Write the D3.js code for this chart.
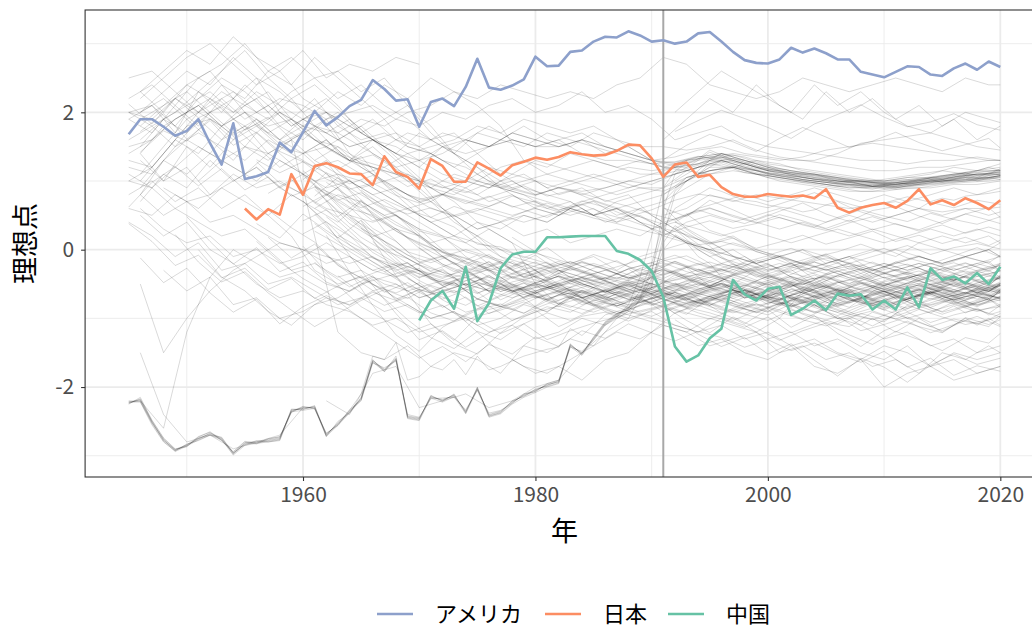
<!DOCTYPE html>
<html><head><meta charset="utf-8">
<script src="https://cdn.jsdelivr.net/npm/d3@7"></script>
<style>
body{margin:0;background:#fff}
svg{display:block}
text{font-family:"Noto Sans CJK JP","Noto Sans",sans-serif}
</style>
</head><body>
<svg id="chart" width="1032" height="629"></svg>
<script>
// ---------------- data ----------------
const countryNames = ["アメリカ", "日本", "中国"];
const countryColors = ["#8DA0CB", "#FC8D62", "#66C2A5"];

const usaStart = 1945;
const usaValues = [1.68,1.90,1.90,1.79,1.66,1.73,1.90,1.55,1.24,1.84,1.03,1.07,1.13,1.56,1.42,1.71,2.02,1.81,1.93,2.09,2.18,2.47,2.34,2.17,2.19,1.79,2.15,2.20,2.09,2.37,2.78,2.36,2.33,2.39,2.48,2.81,2.67,2.68,2.88,2.90,3.03,3.10,3.09,3.18,3.12,3.03,3.05,3.00,3.03,3.15,3.17,3.03,2.88,2.76,2.72,2.71,2.77,2.94,2.87,2.93,2.86,2.77,2.77,2.59,2.55,2.51,2.59,2.67,2.66,2.55,2.53,2.64,2.71,2.62,2.74,2.66];

const japanStart = 1955;
const japanValues = [0.60,0.44,0.59,0.51,1.10,0.80,1.22,1.26,1.20,1.11,1.10,0.94,1.36,1.13,1.06,0.89,1.32,1.22,0.99,0.99,1.27,1.18,1.08,1.23,1.28,1.34,1.31,1.35,1.42,1.39,1.37,1.38,1.44,1.53,1.52,1.33,1.06,1.24,1.27,1.06,1.09,0.91,0.81,0.77,0.77,0.81,0.79,0.77,0.79,0.75,0.88,0.61,0.54,0.61,0.65,0.68,0.61,0.71,0.88,0.66,0.72,0.65,0.75,0.68,0.59,0.72];

const chinaStart = 1970;
const chinaValues = [-1.03,-0.74,-0.60,-0.86,-0.25,-1.04,-0.78,-0.27,-0.07,-0.03,-0.03,0.18,0.18,0.19,0.20,0.20,0.20,-0.02,-0.06,-0.15,-0.31,-0.69,-1.41,-1.63,-1.54,-1.29,-1.15,-0.44,-0.65,-0.74,-0.57,-0.54,-0.95,-0.86,-0.74,-0.88,-0.64,-0.67,-0.65,-0.87,-0.74,-0.87,-0.55,-0.84,-0.27,-0.44,-0.39,-0.49,-0.34,-0.50,-0.25];

const markerYear = 1991;
const xTickValues = [1960, 1980, 2000, 2020];
const yTickValues = [-2, 0, 2];
const xMinorValues = [1950, 1970, 1990, 2010];
const yMinorValues = [-3, -1, 1, 3];

// Eastern-bloc countries, yearly values from 1945
const blocStart = 1945;
const blocSeries = [
[-2.22,-2.19,-2.51,-2.77,-2.92,-2.85,-2.75,-2.68,-2.75,-2.97,-2.82,-2.80,-2.78,-2.75,-2.34,-2.31,-2.29,-2.70,-2.53,-2.36,-2.17,-1.61,-1.75,-1.58,-2.43,-2.46,-2.14,-2.19,-2.12,-2.36,-2.02,-2.41,-2.36,-2.22,-2.12,-2.05,-1.97,-1.92,-1.39,-1.51,-1.29,-1.07,-0.95,-0.85,-0.70,-0.35,0.60,1.10,1.20,1.30,1.42,1.35,1.28,1.22,1.18,1.15,1.12,1.10,1.05,1.03,1.00,0.98,1.00,0.95,0.93,0.96,0.94,0.97,1.00,1.05,1.02,1.06,1.10,1.05,1.12,1.15],
[-2.25,-2.15,-2.48,-2.74,-2.90,-2.87,-2.72,-2.66,-2.78,-2.95,-2.80,-2.83,-2.76,-2.72,-2.36,-2.28,-2.31,-2.68,-2.55,-2.33,-2.20,-1.65,-1.72,-1.62,-2.40,-2.44,-2.17,-2.16,-2.15,-2.33,-2.05,-2.38,-2.34,-2.24,-2.10,-2.07,-1.95,-1.90,-1.42,-1.48,-1.32,-1.10,-0.98,-0.80,-0.40,0.20,0.90,1.15,1.25,1.32,1.45,1.38,1.30,1.25,1.20,1.16,1.14,1.08,1.06,1.02,1.01,0.97,0.98,0.96,0.92,0.95,0.95,0.98,1.02,1.04,1.05,1.08,1.12,1.08,1.10,1.18],
[-2.20,-2.22,-2.55,-2.80,-2.93,-2.83,-2.78,-2.70,-2.73,-2.96,-2.84,-2.78,-2.80,-2.77,-2.32,-2.33,-2.27,-2.72,-2.50,-2.38,-2.15,-1.60,-1.78,-1.55,-2.45,-2.48,-2.12,-2.21,-2.10,-2.38,-2.00,-2.43,-2.37,-2.20,-2.14,-2.03,-1.99,-1.94,-1.37,-1.53,-1.27,-1.05,-0.93,-0.88,-0.75,-0.55,0.20,0.80,1.00,1.15,1.30,1.28,1.22,1.18,1.15,1.10,1.08,1.06,1.02,1.00,0.98,0.95,0.96,0.93,0.92,0.94,0.92,0.95,0.98,1.02,1.00,1.03,1.07,1.03,1.08,1.10],
[-2.24,-2.17,-2.50,-2.78,-2.91,-2.86,-2.74,-2.69,-2.76,-2.98,-2.81,-2.79,-2.77,-2.74,-2.35,-2.30,-2.30,-2.71,-2.52,-2.35,-2.18,-1.62,-1.74,-1.60,-2.42,-2.45,-2.15,-2.18,-2.13,-2.35,-2.03,-2.40,-2.35,-2.21,-2.13,-2.06,-1.96,-1.93,-1.40,-1.50,-1.30,-1.08,-0.96,-0.86,-0.72,-0.45,0.10,0.35,0.25,0.15,0.05,-0.10,-0.20,-0.30,-0.40,-0.35,-0.30,-0.40,-0.50,-0.45,-0.55,-0.60,-0.58,-0.70,-0.62,-0.60,-0.72,-0.80,-0.75,-0.85,-0.90,-0.82,-0.92,-0.85,-0.95,-0.90],
[-2.21,-2.20,-2.52,-2.76,-2.93,-2.84,-2.76,-2.67,-2.74,-2.96,-2.83,-2.81,-2.79,-2.76,-2.33,-2.32,-2.28,-2.69,-2.54,-2.37,-2.16,-1.63,-1.76,-1.59,-2.44,-2.47,-2.13,-2.20,-2.11,-2.37,-2.01,-2.42,-2.38,-2.23,-2.11,-2.04,-1.98,-1.91,-1.38,-1.52,-1.28,-1.06,-0.94,-0.84,-0.68,-0.30,0.30,0.60,0.70,0.80,0.90,0.85,0.78,0.72,0.70,0.65,0.62,0.60,0.55,0.58,0.65,0.70,0.62,0.55,0.50,0.45,0.50,0.55,0.60,0.70,0.75,0.72,0.78,0.80,0.82,0.85],
[-2.23,-2.18,-2.49,-2.75,-2.91,-2.84,-2.73,-2.65,-2.77,-2.94,-2.79,-2.82,-2.75,-2.73,-2.37,-2.29,-2.32,-2.67,-2.56,-2.34,-2.10,-1.55,-1.60,-1.35,-1.90,-1.85,-1.70,-1.75,-1.60,-1.82,-1.55,-1.75,-1.70,-1.62,-1.55,-1.50,-1.45,-1.42,-1.15,-1.25,-1.10,-0.95,-0.90,-0.85,-0.60,-0.20,0.40,0.85,1.00,1.10,1.25,1.22,1.18,1.12,1.10,1.08,1.05,1.02,0.98,0.97,0.95,0.92,0.94,0.90,0.88,0.92,0.90,0.93,0.96,1.00,0.98,1.02,1.05,1.00,1.04,1.08],
[-2.23,-2.21,-2.53,-2.79,-2.94,-2.86,-2.77,-2.70,-2.77,-2.99,-2.85,-2.82,-2.80,-2.78,-2.36,-2.34,-2.31,-2.72,-2.56,-2.38,-2.19,-1.64,-1.77,-1.61,-2.46,-2.49,-2.16,-2.22,-2.14,-2.39,-2.04,-2.44,-2.39,-2.25,-2.15,-2.08,-2.00,-1.95,-1.41,-1.54,-1.31,-1.09,-0.97,-0.88,-0.74,-0.50,0.00,0.20,0.10,-0.10,-0.20,-0.40,-0.50,-0.60,-0.70,-0.80,-0.70,-0.80,-0.90,-0.80,-0.90,-1.00,-1.00,-1.10,-1.00,-1.10,-1.20,-1.10,-1.00,-1.10,-1.20,-1.10,-1.00,-1.10,-1.00,-1.10]
];

// Other countries, one value every second (even) year; the last value is 2020
const grayEvenSeries = [
[2.0,2.2,1.9,2.1,2.3,2.0,2.2,2.1,1.9,2.0,2.1,1.9,1.8,2.0,1.9,2.1,2.2,2.0,2.1,2.3,2.0,2.1,1.9,1.6,1.7,1.8,1.6,1.5,1.45,1.4,1.35,1.3,1.3,1.25,1.3,1.3,1.35,1.3],
[1.4,1.8,2.0,2.2,1.9,1.7,2.0,1.8,1.7,1.5,1.6,1.4,1.3,1.5,1.4,1.5,1.6,1.5,1.6,1.7,1.5,1.4,1.3,1.25,1.35,1.4,1.3,1.2,1.15,1.1,1.05,1.0,1.0,1.05,1.05,1.1,1.15,1.15],
[1.9,2.1,2.4,2.2,2.0,2.3,2.1,1.9,1.7,1.9,1.6,1.5,1.3,1.4,1.6,1.5,1.7,1.6,1.5,1.6,1.4,1.5,1.3,1.35,1.45,1.5,1.4,1.35,1.3,1.3,1.4,1.55,1.6,1.65,1.7,1.6,1.5,1.45],
[1.0,1.4,1.8,1.9,1.6,1.8,1.5,1.4,1.6,1.3,1.2,1.1,1.0,0.9,1.0,1.2,1.1,1.3,1.2,1.1,1.0,0.9,1.0,1.1,1.2,1.25,1.15,1.05,1.0,0.95,0.9,0.85,0.85,0.9,0.9,0.95,0.95,1.0],
[0.8,1.3,1.1,1.4,1.2,1.0,1.3,1.1,0.9,1.0,0.8,0.9,0.7,0.8,1.0,0.9,1.1,1.0,0.9,0.8,0.9,1.0,1.1,1.2,1.3,1.35,1.25,1.15,1.1,1.05,1.0,0.98,0.95,1.0,1.02,1.06,1.1,1.12],
[1.8,2.1,2.3,2.0,1.7,1.9,1.6,1.4,1.5,1.3,1.2,1.1,1.0,0.8,0.7,0.6,0.5,0.6,0.5,0.7,0.8,0.9,1.0,1.1,1.2,1.3,1.2,1.12,1.08,1.03,1.0,0.96,0.94,0.97,1.0,1.04,1.08,1.1],
[2.3,2.0,2.4,2.6,2.2,2.5,2.0,1.8,2.0,1.7,1.9,1.6,1.5,1.7,1.6,1.5,1.6,1.5,1.5,1.6,1.5,1.4,1.3,1.22,1.32,1.37,1.27,1.17,1.13,1.09,1.04,0.99,0.98,1.02,1.04,1.09,1.12,1.16],
[1.8,1.6,1.9,1.7,1.5,1.6,1.4,1.7,1.5,1.6,1.8,1.6,1.5,1.6,1.4,1.3,1.3,1.25,1.28,1.36,1.3,1.2,1.12,1.07,1.03,1.0,0.97,0.97,1.0,1.04,1.08,1.1,1.13],
[1.9,2.0,1.8,1.6,1.7,1.5,1.3,1.2,1.0,0.9,0.8,0.9,1.0,1.1,1.2,1.15,1.2,1.25,1.35,1.3,1.2,1.12,1.06,1.02,1.0,0.96,0.99,1.02,1.06,1.1,1.12],
[1.4,1.6,1.3,1.5,1.2,1.3,1.1,1.0,0.9,1.0,0.8,0.9,0.85,0.9,1.0,0.95,1.1,1.2,1.3,1.2,1.1,1.05,1.0,0.96,0.93,0.92,0.95,0.98,1.02,1.05,1.07],
[1.6,1.5,1.7,1.6,1.5,1.6,1.5,1.4,1.3,1.27,1.35,1.4,1.3,1.22,1.15,1.1,1.05,1.02,1.0,1.02,1.06,1.1,1.13,1.16],
[2.2,2.5,2.8,3.0,2.7,2.4,2.6,2.2,2.0,1.8,1.6,1.3,1.0,0.6,0.3,0.1,-0.1,-0.2,-0.3,-0.4,-0.3,-0.2,-0.1,-0.2,-0.3,-0.2,-0.3,-0.2,-0.4,-0.5,-0.6,-0.5,-0.4,-0.5,-0.3,-0.4,-0.3,-0.2],
[1.5,1.9,2.1,2.3,2.0,2.2,1.8,1.6,1.9,1.4,1.1,0.8,0.5,0.3,0.1,-0.1,-0.3,-0.4,-0.5,-0.4,-0.5,-0.6,-0.4,-0.5,-0.6,-0.5,-0.7,-0.6,-0.8,-0.9,-1.0,-1.1,-1.3,-1.2,-1.4,-1.3,-1.5,-1.4],
[2.0,2.3,2.6,2.4,2.8,2.5,2.3,2.0,2.2,1.9,1.6,1.4,1.2,1.0,0.9,0.7,0.8,0.6,0.5,0.6,0.4,0.5,0.3,0.4,0.3,0.2,0.3,0.2,0.1,0.2,0.3,0.2,0.1,0.2,0.3,0.2,0.3,0.2],
[0.9,1.3,1.6,1.4,1.8,1.5,1.2,1.4,1.1,0.9,0.7,0.5,0.3,0.0,-0.2,-0.4,-0.5,-0.6,-0.5,-0.7,-0.6,-0.5,-0.4,-0.3,-0.2,-0.3,-0.2,-0.3,-0.2,-0.1,-0.2,-0.3,-0.2,-0.3,-0.2,-0.3,-0.2,-0.1],
[1.4,1.0,1.5,1.2,1.6,1.9,1.6,1.8,1.5,1.7,1.4,1.2,0.9,0.6,0.3,0.0,-0.2,-0.4,-0.3,-0.5,-0.6,-0.5,-0.7,-0.6,-0.5,-0.6,-0.7,-0.6,-0.5,-0.7,-0.6,-0.8,-0.7,-0.9,-0.8,-0.7,-0.8,-0.7],
[1.1,1.5,1.9,1.6,1.3,1.7,1.4,1.1,1.3,1.0,0.8,0.6,0.4,0.2,-0.1,-0.3,-0.4,-0.3,-0.5,-0.4,-0.3,-0.4,-0.5,-0.6,-0.4,-0.5,-0.6,-0.7,-0.5,-0.6,-0.8,-0.7,-0.6,-0.7,-0.6,-0.5,-0.6,-0.5],
[1.6,1.9,1.7,2.0,2.2,1.8,2.0,1.7,1.5,1.3,1.6,1.4,1.2,1.5,1.3,1.1,0.9,1.0,0.8,0.9,0.7,0.8,0.5,0.3,0.0,-0.2,-0.1,-0.3,-0.2,-0.3,-0.4,-0.3,-0.2,-0.3,-0.2,-0.3,-0.2,-0.3],
[0.7,1.1,0.9,1.3,1.0,1.2,0.9,1.1,0.8,0.6,0.5,0.3,0.2,-0.1,-0.3,-0.5,-0.6,-0.7,-0.6,-0.8,-0.7,-0.6,-0.8,-0.7,-0.6,-0.7,-0.8,-0.9,-0.7,-0.8,-1.0,-0.9,-0.8,-1.0,-0.9,-0.8,-0.9,-0.8],
[0.6,0.3,0.1,0.2,-0.1,0.0,-0.2,-0.1,0.1,-0.1,-0.3,-0.2,-0.4,-0.3,-0.5,-0.4,-0.6,-0.5,-0.6,-0.7,-0.6,-0.72,-0.81,-0.68,-0.63,-0.74,-0.83,-0.69,-0.78,-0.92,-0.81,-0.73,-0.84,-0.71,-0.62,-0.73,-0.64,-0.71],
[0.5,0.2,0.4,0.0,-0.2,-0.5,-0.7,-0.6,-0.8,-0.9,-1.1,-1.0,-1.2,-1.1,-1.0,-1.2,-1.1,-1.3,-1.2,-1.0,-1.1,-0.9,-1.0,-1.1,-1.2,-1.0,-1.1,-1.3,-1.2,-1.4,-1.3,-1.5,-1.6,-1.4,-1.7,-1.5,-1.6,-1.5],
[1.3,1.0,1.2,0.8,1.1,0.9,1.0,0.8,0.6,0.5,0.4,0.5,0.3,0.2,0.1,0.3,0.1,-0.5,-0.8,-0.7,-0.9,-1.0,-0.9,-1.1,-1.2,-1.1,-1.3,-1.2,-1.4,-1.3,-1.5,-1.6,-1.4,-1.5,-1.7,-1.6,-1.8,-1.7],
[0.8,0.5,0.7,0.4,0.5,0.3,0.1,0.0,-0.1,-0.2,-0.1,-0.3,-0.2,-0.1,0.0,-0.1,-0.2,-0.3,-0.2,-0.3,-0.41,-0.28,-0.19,-0.33,-0.42,-0.29,-0.38,-0.51,-0.42,-0.53,-0.38,-0.27,-0.41,-0.33,-0.44,-0.52,-0.39,-0.31],
[0.9,0.7,0.8,1.0,1.2,0.9,0.7,0.4,0.2,0.0,-0.2,-0.3,-0.4,-0.3,-0.5,-0.6,-0.5,-0.6,-0.7,-0.6,-0.72,-0.61,-0.74,-0.83,-0.68,-0.59,-0.71,-0.82,-0.73,-0.61,-0.69,-0.81,-0.72,-0.63,-0.74,-0.62,-0.7],
[-0.3,-0.6,-0.4,-0.8,-0.7,-1.0,-0.9,-0.7,-0.8,-0.6,-0.5,-0.7,-0.6,-0.5,-0.6,-0.7,-0.6,-0.5,-0.6,-0.7,-0.8,-0.71,-0.62,-0.73,-0.84,-0.93,-0.78,-0.69,-0.82,-0.91,-0.79,-0.68,-0.61,-0.72,-0.63,-0.51,-0.6],
[-0.5,-1.5,-1.0,-0.6,-0.3,-0.1,0.1,0.0,-0.2,-0.1,-0.3,-0.4,-0.3,-0.5,-0.4,-0.6,-0.5,-0.7,-0.6,-0.5,-0.6,-0.73,-0.58,-0.69,-0.81,-0.67,-0.59,-0.72,-0.83,-0.71,-0.62,-0.68,-0.79,-0.72,-0.61,-0.73,-0.64,-0.7],
[1.15,0.85,0.62,0.31,0.12,-0.18,-0.33,-0.41,-0.28,-0.52,-0.38,-0.55,-0.63,-0.47,-0.61,-0.49,-0.72,-0.58,-0.51,-0.66,-0.74,-0.57,-0.69,-0.83,-0.71,-0.6,-0.75,-0.62,-0.7,-0.58,-0.52],
[0.42,0.58,0.27,-0.04,-0.23,-0.45,-0.62,-0.49,-0.74,-0.58,-0.83,-0.66,-0.61,-0.77,-0.85,-0.69,-0.93,-0.78,-0.71,-0.86,-0.95,-0.79,-0.68,-0.84,-0.97,-1.05,-0.81,-0.92,-0.76,-0.88,-0.83],
[0.05,-0.32,-0.54,-0.38,-0.74,-0.92,-0.81,-1.04,-0.87,-0.79,-0.68,-0.83,-0.59,-0.73,-0.52,-0.64,-0.71,-0.57,-0.49,-0.63,-0.76,-0.84,-0.69,-0.58,-0.74,-0.86,-0.72,-0.61,-0.69,-0.81,-0.73],
[1.02,1.28,0.87,0.58,0.36,0.21,-0.04,-0.13,-0.22,-0.35,-0.44,-0.53,-0.41,-0.62,-0.48,-0.39,-0.51,-0.64,-0.73,-0.59,-0.47,-0.61,-0.52,-0.58,-0.71,-0.63,-0.49,-0.57,-0.68,-0.61,-0.72],
[0.63,0.81,0.47,0.19,0.31,0.02,-0.21,-0.34,-0.17,-0.41,-0.53,-0.38,-0.49,-0.62,-0.51,-0.58,-0.37,-0.48,-0.63,-0.52,-0.6,-0.72,-0.57,-0.47,-0.59,-0.68,-0.55,-0.49,-0.61,-0.53,-0.64],
[1.08,0.79,1.02,0.68,0.49,0.27,0.18,-0.03,-0.12,-0.24,-0.08,-0.31,-0.19,-0.28,-0.42,-0.33,-0.17,-0.29,-0.41,-0.31,-0.22,-0.34,-0.43,-0.27,-0.38,-0.52,-0.41,-0.33,-0.45,-0.31,-0.42],
[0.72,0.38,0.17,-0.09,-0.31,-0.42,-0.27,-0.53,-0.39,-0.48,-0.62,-0.47,-0.41,-0.53,-0.64,-0.49,-0.58,-0.46,-0.71,-0.59,-0.52,-0.63,-0.74,-0.61,-0.49,-0.58,-0.51,-0.63,-0.72,-0.6],
[0.98,0.77,0.52,0.27,0.09,-0.04,-0.21,-0.07,-0.29,-0.18,-0.33,-0.17,-0.28,-0.42,-0.31,-0.19,-0.32,-0.43,-0.28,-0.39,-0.27,-0.18,-0.31,-0.42,-0.29,-0.21,-0.33,-0.44,-0.32,-0.23],
[0.48,0.27,-0.03,-0.22,-0.33,-0.52,-0.38,-0.54,-0.63,-0.49,-0.71,-0.58,-0.47,-0.62,-0.51,-0.42,-0.53,-0.64,-0.48,-0.39,-0.52,-0.63,-0.47,-0.58,-0.49,-0.41,-0.53,-0.62,-0.47],
[0.38,0.17,0.52,0.28,0.07,-0.12,-0.23,-0.41,-0.28,-0.53,-0.37,-0.61,-0.48,-0.39,-0.52,-0.63,-0.47,-0.58,-0.72,-0.61,-0.49,-0.62,-0.71,-0.58,-0.69,-0.57,-0.48,-0.61,-0.73,-0.58,-0.47,-0.63,-0.52],
[1.28,0.97,0.81,1.12,0.68,0.42,0.51,0.18,-0.03,-0.12,-0.31,-0.17,-0.38,-0.27,-0.18,-0.29,-0.41,-0.28,-0.17,-0.32,-0.21,-0.29,-0.42,-0.31,-0.18,-0.27,-0.22,-0.34,-0.43,-0.28,-0.19,-0.31,-0.23],
[0.23,0.41,0.07,-0.18,-0.39,-0.27,-0.52,-0.38,-0.61,-0.47,-0.39,-0.53,-0.62,-0.71,-0.58,-0.49,-0.61,-0.53,-0.42,-0.51,-0.63,-0.48,-0.59,-0.72,-0.61,-0.52,-0.63,-0.51,-0.42,-0.53,-0.61],
[-0.08,-0.32,-0.51,-0.63,-0.48,-0.72,-0.59,-0.47,-0.61,-0.52,-0.38,-0.49,-0.62,-0.51,-0.42,-0.53,-0.64,-0.49,-0.58,-0.71,-0.62,-0.48,-0.59,-0.73,-0.61,-0.52,-0.63,-0.48,-0.57,-0.49],
[0.12,-0.18,-0.31,-0.52,-0.41,-0.53,-0.62,-0.48,-0.39,-0.52,-0.41,-0.49,-0.61,-0.52,-0.38,-0.29,-0.42,-0.51,-0.39,-0.48,-0.37,-0.28,-0.41,-0.52,-0.38,-0.27,-0.39,-0.31],
[0.03,-0.21,-0.38,-0.29,-0.51,-0.63,-0.48,-0.41,-0.52,-0.61,-0.72,-0.58,-0.49,-0.61,-0.52,-0.39,-0.51,-0.63,-0.48,-0.41,-0.53,-0.42,-0.51,-0.62,-0.49,-0.38],
[0.48,0.21,-0.12,-0.28,-0.52,-0.73,-0.91,-0.82,-1.03,-0.88,-1.12,-0.97,-0.91,-1.04,-0.88,-0.79,-0.92,-1.01,-1.13,-0.98,-1.21,-1.08,-0.97,-1.18,-1.09,-0.98,-1.12,-1.01,-1.08,-0.97],
[0.18,-0.03,-0.21,-0.32,-0.43,-0.28,-0.52,-0.41,-0.29,-0.42,-0.53,-0.38,-0.49,-0.61,-0.48,-0.39,-0.51,-0.42,-0.31,-0.43,-0.52,-0.39],
[0.32,0.08,-0.12,-0.23,-0.41,-0.29,-0.52,-0.38,-0.49,-0.61,-0.48,-0.39,-0.52,-0.63,-0.49],
[-0.28,-0.41,-0.62,-0.49,-0.71,-0.58,-0.82,-0.69,-0.61,-0.73,-0.84,-0.71,-0.59,-0.72],
[0.83,0.51,0.22,0.03,-0.18,-0.09,-0.31,-0.18,-0.42,-0.29,-0.17,-0.31,-0.43,-0.28,-0.19,-0.08,-0.21,-0.32,-0.18,-0.09,-0.22,-0.31,-0.19,-0.08,0.02,-0.12,-0.21,-0.09,0.03,-0.11],
[0.21,-0.32,-0.81,-1.24,-1.48,-1.13,-0.94,-0.78,-0.87,-0.71,-0.62,-0.74,-0.58,-0.69,-0.77,-0.62,-0.71,-0.83,-0.69,-0.58,-0.71,-0.82,-0.67,-0.74,-0.88,-0.72,-0.61,-0.73,-0.81,-0.68],
[0.71,0.38,-0.08,-0.52,-0.93,-1.31,-1.18,-1.42,-1.21,-1.03,-0.91,-0.82,-0.93,-0.78,-0.89,-0.97,-0.83,-0.72,-0.86,-0.94,-1.03,-0.88,-0.97,-1.08,-0.93,-1.02,-0.91,-1.06,-0.95,-0.87,-0.98],
[0.12,-0.18,-0.42,-0.61,-0.88,-1.12,-1.35,-1.58,-1.41,-1.63,-1.38,-1.52,-1.27,-1.41,-1.18,-1.29,-1.08,-1.21,-1.33,-1.19,-1.28,-1.42,-1.31,-1.47,-1.36,-1.52,-1.64,-1.48,-1.71,-1.58,-1.83,-1.69,-1.77],
[1.72,1.98,1.61,1.88,1.52,1.71,1.43,1.28,1.12,0.96,1.08,0.88,0.73,0.81,0.67,0.78,0.62,0.71,0.58,0.66,0.52,0.43,0.31,0.18,0.07,0.12,0.03,-0.08,0.02,-0.11,-0.03,0.08,-0.04,0.06,-0.07,0.03,0.09,0.01],
[1.31,1.12,1.28,1.03,0.88,0.97,0.79,0.68,0.81,0.72,0.63,0.78,0.69,0.57,0.71,0.62,0.48,0.58,0.72,0.81,0.76,0.68,0.61,0.72,0.83,0.71,0.62,0.68,0.77,0.69,0.61,0.72,0.66],
[1.42,1.73,1.58,1.91,1.67,1.83,1.54,1.72,1.48,1.29,1.38,1.17,1.02,0.91,0.83,0.97,0.88,0.79,0.91,0.82,0.72,0.63,0.52,0.43,0.58,0.47,0.38,0.51,0.42,0.33,0.47,0.58,0.49,0.41,0.53,0.44,0.37,0.48],
[-0.12,-0.48,-0.27,-0.63,-0.91,-0.72,-1.08,-0.83,-0.67,-0.81,-0.62,-0.74,-0.58,-0.69,-0.81,-0.63,-0.52,-0.68,-0.79,-0.61,-0.72,-0.83,-0.71,-0.62,-0.79,-0.68,-0.82,-0.91,-0.73,-0.84,-0.96,-0.82,-0.73,-0.86,-0.71,-0.79,-0.68,-0.74],
[0.48,0.12,-0.21,0.03,-0.32,-0.18,-0.47,-0.61,-0.43,-0.72,-0.58,-0.84,-0.69,-0.93,-0.78,-0.62,-0.74,-0.59,-0.68,-0.81,-0.72,-0.63,-0.77,-0.68,-0.59,-0.71,-0.82,-0.67,-0.58,-0.69,-0.78,-0.64,-0.53,-0.67,-0.58,-0.62],
[1.72,1.88,2.03,1.91,1.78,1.62,1.83,1.97,2.11,1.93,1.79,1.86,1.98,1.82,1.74],
[-1.02,-1.23,-1.41,-1.28,-1.52,-1.37,-1.61,-1.84,-1.58,-1.71,-1.93,-1.68,-1.52,-1.67,-1.58],
[-0.48,-0.71,-0.92,-1.08,-0.87,-1.13,-0.96,-1.22,-1.41,-1.18,-1.04,-1.21,-1.09,-0.97,-1.12],
[-1.6,-1.8,-1.7,-1.9,-1.6,-1.5,-1.2,-0.92,-0.81,-0.93,-0.78,-0.69,-0.82,-0.91,-0.78,-0.71,-0.84,-0.69,-0.81,-0.72,-0.83,-0.68],
[-2.2,-2.4,-1.8,-1.7,-2.3,-2.2,-2.1,-2.3,-2.2,-2.0,-1.9,-1.5,-1.2,-1.0,-0.42,-0.31,-0.52,-0.38,-0.49,-0.61,-0.48,-0.37,-0.52,-0.63,-0.47,-0.39,-0.51,-0.62,-0.48,-0.41],
[1.0,1.2,1.4,1.3,1.2,1.1,1.1,1.0,1.0,0.95,1.0,1.05,1.1,1.15,1.2],
[0.9,1.1,1.3,1.25,1.15,1.1,1.05,1.0,0.95,0.9,0.95,1.0,1.05,1.1,1.1],
[1.2,1.25,1.4,1.35,1.25,1.2,1.15,1.1,1.05,1.0,1.05,1.1,1.2,1.15,1.25],
[0.41,0.18,0.02,-0.21,-0.32,-0.19,-0.43,-0.31,-0.42,-0.53,-0.39,-0.51,-0.42,-0.54,-0.41],
[0.22,0.03,-0.12,-0.31,-0.42,-0.53,-0.41,-0.62,-0.49,-0.61,-0.72,-0.58,-0.49,-0.63,-0.52],
[2.0,2.3,2.6,2.4,2.2,2.0,2.4,2.1,2.3,2.0,1.8,1.7,1.9,1.6,1.8],
[-1.2,-1.4,-1.3,-1.5,-1.6,-1.4,-1.7,-1.8,-1.6,-2.0,-1.8,-1.7,-1.9,-1.8,-1.7],
[0.4,0.6,0.7,0.8,0.7,0.8,0.9,0.8,0.7,0.8,0.7,0.8,0.9,0.8,0.9]
];

// Other countries, one value every second (odd) year; the last value is 2020
const grayOddSeries = [
[1.5,1.6,1.9,2.1,1.8,2.0,1.7,1.9,1.6,1.5,1.3,1.2,1.4,1.5,1.6,1.8,1.7,1.9,1.8,1.7,1.8,1.6,1.5,1.5,1.45,1.5,1.6,1.45,1.35,1.3,1.25,1.2,1.15,1.15,1.2,1.2,1.25,1.3,1.3],
[2.0,2.1,1.7,2.3,2.0,2.4,2.1,1.8,2.0,1.6,1.8,1.5,1.7,1.6,1.4,1.7,1.6,1.8,1.6,1.5,1.7,1.6,1.4,1.2,1.2,1.3,1.38,1.28,1.18,1.12,1.08,1.02,0.98,0.97,1.0,1.03,1.08,1.1,1.14],
[1.3,1.2,1.6,2.0,1.8,2.1,2.3,1.9,2.2,1.8,1.6,1.7,1.5,1.4,1.2,1.4,1.6,1.5,1.7,1.6,1.5,1.4,1.3,1.2,1.3,1.35,1.4,1.35,1.3,1.35,1.45,1.5,1.55,1.5,1.45,1.4,1.35,1.3,1.3],
[1.0,0.9,1.2,1.5,1.3,1.1,1.4,1.2,1.0,1.1,0.9,1.0,0.8,0.7,0.9,0.8,1.0,1.1,0.9,1.0,1.1,1.0,0.9,0.9,1.15,1.25,1.3,1.2,1.1,1.05,1.0,0.95,0.95,0.92,0.95,1.0,1.02,1.05,1.08],
[0.6,0.5,0.8,0.6,0.9,0.7,0.5,0.8,0.6,0.4,0.7,0.5,0.3,0.1,0.2,0.4,0.3,0.5,0.4,0.6,0.5,0.4,0.6,0.7,1.05,1.15,1.2,1.12,1.05,1.0,0.95,0.92,0.9,0.88,0.9,0.95,0.98,1.0,1.02],
[1.2,1.1,1.5,1.7,1.5,1.3,1.6,1.4,1.2,1.3,1.1,1.2,1.0,0.9,1.1,1.0,1.2,1.3,1.1,1.2,1.3,1.2,1.1,1.1,1.18,1.28,1.33,1.22,1.14,1.1,1.06,1.0,0.98,0.95,0.98,1.02,1.05,1.08,1.1],
[2.0,2.3,2.1,2.4,2.2,2.5,2.3,2.1,1.8,1.3,1.2,1.4,1.3,1.2,1.3,1.2,1.15,1.1,1.2,1.3,1.25,1.15,1.1,1.05,1.0,0.97,0.95,0.98,1.02,1.05,1.08],
[1.3,1.5,1.2,1.0,1.1,0.9,0.8,1.0,0.9,1.0,1.1,1.0,0.9,0.8,0.9,0.85,1.0,1.15,1.2,1.15,1.08,1.02,0.98,0.94,0.92,0.9,0.93,0.96,1.0,1.02,1.05],
[0.6,0.8,0.7,0.5,0.6,0.4,0.5,0.3,0.4,0.5,0.4,0.6,0.5,0.6,0.7,0.8,1.05,1.15,1.22,1.15,1.07,1.02,0.98,0.95,0.93,0.91,0.94,0.97,1.0,1.03,1.06],
[1.0,0.8,0.6,0.7,0.5,0.6,0.5,0.4,0.5,0.6,0.5,0.7,0.8,0.9,1.05,1.15,1.2,1.1,1.05,1.0,0.95,0.9,0.92,0.95,0.98,1.0,1.02,1.04,1.06],
[1.6,1.8,2.0,2.3,2.6,2.9,2.5,2.2,2.4,2.1,1.7,1.5,1.2,0.9,0.7,0.4,0.2,0.0,-0.1,-0.2,-0.1,-0.3,-0.1,0.0,0.1,0.0,-0.1,-0.2,-0.1,-0.2,-0.3,-0.2,-0.3,-0.2,-0.1,-0.2,-0.1,0.0,-0.1],
[1.0,1.2,1.6,1.4,1.8,1.5,1.3,1.6,0.2,-1.2,-1.5,-1.6,-1.4,-1.7,-1.5,-1.6,-1.8,-1.4,-1.5,-1.3,-1.4,-1.2,-1.3,-1.1,-1.2,-1.4,-1.3,-1.2,-1.5,-1.4,-1.6,-1.5,-1.7,-1.6,-1.8,-1.5,-1.6,-1.4,-1.5],
[1.9,1.7,2.1,1.8,2.2,1.9,2.1,1.8,2.0,1.7,1.5,1.3,1.0,0.7,0.4,0.2,-0.1,-0.2,-0.3,-0.4,-0.5,-0.4,-0.5,-0.3,-0.4,-0.3,-0.4,-0.5,-0.4,-0.6,-0.5,-0.7,-0.6,-0.5,-0.6,-0.5,-0.4,-0.5,-0.4],
[2.2,2.4,2.1,2.5,2.7,3.0,2.6,2.8,2.5,2.6,2.3,2.5,2.1,1.8,1.4,1.2,0.9,0.8,0.6,0.7,0.5,0.6,0.4,0.2,0.1,-0.1,0.0,-0.2,-0.1,-0.3,-0.2,-0.1,-0.3,-0.2,-0.1,-0.2,-0.1,-0.2,-0.3],
[2.5,2.6,2.3,2.0,2.4,2.2,2.6,2.4,2.8,2.5,2.2,1.9,2.1,1.7,1.4,1.1,0.9,0.7,0.6,0.5,0.6,0.4,0.5,0.3,0.1,0.0,0.1,0.0,-0.1,0.0,-0.2,-0.1,0.0,-0.1,0.1,0.0,-0.1,0.0,0.1],
[2.0,1.9,2.2,2.0,2.3,2.1,1.9,2.2,1.8,2.0,1.7,1.9,1.5,1.4,1.2,1.0,0.9,0.8,0.7,0.6,0.7,0.5,0.6,0.4,0.2,0.1,0.2,0.0,-0.1,0.0,-0.1,-0.2,-0.1,0.0,-0.1,-0.2,-0.1,0.0,-0.1],
[1.9,2.1,1.8,2.2,2.5,2.3,2.0,2.3,2.5,2.2,2.4,2.1,1.9,1.6,1.7,1.4,1.1,0.9,0.8,0.7,0.5,0.6,0.4,0.3,0.1,0.0,-0.1,-0.2,-0.1,-0.2,-0.3,-0.2,-0.4,-0.3,-0.2,-0.3,-0.4,-0.3,-0.2],
[1.4,1.6,1.9,2.1,1.8,2.0,1.8,1.9,1.6,1.4,1.2,1.0,0.8,0.6,0.5,0.3,0.4,0.2,0.3,0.1,0.2,0.3,0.2,0.4,0.5,0.6,0.5,0.4,0.3,0.4,0.3,0.2,0.3,0.2,0.1,0.2,0.1,0.2,0.1],
[1.1,0.9,0.6,0.4,0.2,0.3,0.0,-0.3,-0.2,-0.4,-0.3,-0.5,-0.6,-0.5,-0.4,-0.3,-0.2,-0.4,-0.3,-0.5,-0.4,-0.52,-0.63,-0.48,-0.39,-0.51,-0.62,-0.47,-0.58,-0.49,-0.71,-0.62,-0.53,-0.61,-0.72,-0.54,-0.63,-0.51,-0.6],
[0.8,1.0,0.7,0.9,0.6,0.8,0.5,0.2,-0.3,-0.5,-0.4,-0.6,-0.8,-1.0,-0.9,-1.1,-1.0,-0.8,-0.9,-0.7,-0.8,-0.9,-1.0,-1.1,-1.2,-1.0,-1.1,-1.2,-1.0,-0.6,-0.4,-0.5,-0.3,-0.4,-0.5,-0.4,-0.5,-0.6,-0.5],
[2.0,1.8,1.5,1.9,1.6,1.8,1.4,1.6,1.3,1.1,1.0,0.8,0.6,0.4,0.2,0.1,0.0,-0.1,-0.2,-0.3,-0.2,-0.31,-0.42,-0.28,-0.39,-0.33,-0.21,-0.32,-0.43,-0.29,-0.41,-0.52,-0.38,-0.29,-0.42,-0.51,-0.39,-0.48,-0.58],
[1.0,1.3,1.5,1.4,1.6,1.8,1.7,1.9,1.8,2.0,2.1,2.3,2.2,2.4,2.3,2.2,2.3,2.2,2.4,2.5,2.8,2.7,2.4,2.3,2.2,2.3,2.5,2.4,2.3,2.4,2.5,2.4,2.3,2.5,2.4,2.4],
[0.4,0.2,-0.1,0.1,-0.3,-0.2,-0.5,-0.4,-0.6,-0.8,-0.7,-0.9,-0.8,-1.0,-0.9,-1.2,-1.5,-1.7,-1.8,-1.6,-1.4,-1.0,-0.8,-0.6,-0.5,-0.4,-0.5,-0.3,-0.2,-0.3,-0.2,-0.1,-0.2,-0.3,-0.2,-0.3,-0.2,-0.3,-0.4],
[0.0,-0.4,-0.6,-0.9,-1.1,-0.8,-0.7,-0.5,-0.4,-0.3,-0.4,-0.5,-0.4,-0.5,-0.6,-0.5,-0.6,-0.5,-0.6,-0.7,-0.58,-0.49,-0.62,-0.71,-0.59,-0.48,-0.63,-0.52,-0.61,-0.73,-0.62,-0.51,-0.64,-0.53,-0.61,-0.5],
[0.78,1.05,0.66,0.42,0.18,0.03,-0.22,-0.08,-0.34,-0.19,-0.42,-0.27,-0.38,-0.51,-0.36,-0.29,-0.44,-0.53,-0.37,-0.48,-0.62,-0.45,-0.39,-0.54,-0.61,-0.43,-0.37,-0.52,-0.64,-0.47,-0.41],
[1.48,1.17,1.36,0.96,0.72,0.47,0.33,0.08,0.04,-0.12,0.03,-0.21,-0.07,-0.18,-0.31,-0.16,-0.09,-0.24,-0.33,-0.15,-0.28,-0.19,-0.06,-0.22,-0.35,-0.18,-0.27,-0.41,-0.29,-0.17,-0.31],
[0.93,0.48,0.72,0.28,-0.03,-0.14,-0.32,-0.17,-0.43,-0.29,-0.18,-0.41,-0.27,-0.16,-0.34,-0.42,-0.26,-0.53,-0.38,-0.29,-0.44,-0.51,-0.36,-0.27,-0.42,-0.55,-0.63,-0.48,-0.39,-0.53,-0.37],
[-0.18,-0.52,-0.83,-1.02,-1.21,-1.08,-1.32,-0.97,-0.88,-0.76,-0.91,-0.68,-0.79,-0.93,-0.82,-0.71,-0.84,-0.92,-1.03,-0.89,-0.78,-0.94,-1.06,-1.12,-0.91,-1.01,-0.87,-0.98,-1.09,-1.02,-0.93],
[0.27,0.08,-0.13,-0.32,-0.19,-0.43,-0.51,-0.64,-0.48,-0.71,-0.57,-0.49,-0.62,-0.74,-0.59,-0.51,-0.63,-0.72,-0.58,-0.69,-0.81,-0.67,-0.59,-0.73,-0.79,-0.66,-0.57,-0.71,-0.62,-0.74,-0.59],
[0.52,0.17,0.43,0.08,-0.13,-0.31,-0.19,-0.42,-0.61,-0.48,-0.73,-0.58,-0.69,-0.82,-0.71,-0.63,-0.74,-0.81,-0.68,-0.59,-0.71,-0.62,-0.73,-0.84,-0.61,-0.69,-0.83,-0.72,-0.79,-0.68,-0.62],
[0.21,0.02,-0.23,-0.41,-0.63,-0.47,-0.72,-0.81,-0.61,-0.73,-0.84,-0.68,-0.62,-0.74,-0.83,-0.94,-0.71,-0.82,-0.91,-0.79,-0.68,-0.81,-0.93,-0.78,-0.69,-0.82,-0.94,-0.83,-0.72,-0.81],
[-0.38,-0.63,-0.81,-0.69,-0.92,-1.04,-0.88,-0.79,-0.93,-0.71,-0.82,-0.91,-0.78,-0.69,-0.62,-0.73,-0.59,-0.51,-0.64,-0.72,-0.61,-0.53,-0.62,-0.71,-0.58,-0.49,-0.63,-0.72,-0.59,-0.52],
[0.87,0.62,0.38,0.07,-0.12,-0.23,-0.31,-0.18,-0.42,-0.28,-0.39,-0.52,-0.38,-0.29,-0.41,-0.53,-0.37,-0.28,-0.42,-0.51,-0.38,-0.49,-0.41,-0.29,-0.38,-0.27,-0.41,-0.52,-0.39],
[0.82,1.02,0.68,0.91,0.57,0.38,0.17,-0.03,-0.19,-0.32,-0.18,-0.41,-0.28,-0.17,-0.31,-0.43,-0.27,-0.19,-0.32,-0.41,-0.29,-0.38,-0.52,-0.39,-0.28,-0.41,-0.53,-0.38,-0.27,-0.42,-0.31,-0.39,-0.28],
[0.18,-0.12,0.08,-0.23,-0.41,-0.28,-0.52,-0.63,-0.48,-0.71,-0.83,-0.92,-0.79,-0.68,-0.82,-0.71,-0.59,-0.73,-0.84,-0.69,-0.58,-0.72,-0.63,-0.74,-0.86,-0.71,-0.82,-0.93,-0.79,-0.68,-0.81,-0.72,-0.84],
[0.68,0.47,0.18,-0.02,-0.13,-0.32,-0.41,-0.63,-0.51,-0.62,-0.73,-0.58,-0.81,-0.69,-0.57,-0.72,-0.83,-0.68,-0.59,-0.71,-0.62,-0.73,-0.82,-0.69,-0.58,-0.71,-0.61,-0.73,-0.84,-0.71,-0.62],
[0.31,0.02,-0.28,-0.43,-0.62,-0.49,-0.73,-0.58,-0.52,-0.63,-0.74,-0.61,-0.72,-0.83,-0.69,-0.58,-0.71,-0.82,-0.73,-0.61,-0.72,-0.59,-0.48,-0.61,-0.72,-0.58,-0.69,-0.61,-0.52],
[-0.42,-0.61,-0.48,-0.72,-0.83,-0.69,-0.58,-0.71,-0.82,-0.93,-0.81,-0.69,-0.78,-0.71,-0.59,-0.68,-0.79,-0.72,-0.61,-0.73,-0.82,-0.69,-0.58,-0.71,-0.62,-0.73,-0.59],
[0.88,0.57,0.31,0.12,-0.08,-0.19,-0.07,-0.28,-0.17,-0.39,-0.27,-0.18,-0.31,-0.42,-0.28,-0.37,-0.26,-0.18,-0.29,-0.17,-0.08,-0.21,-0.12,-0.19,-0.31,-0.18,-0.09,-0.22,-0.11,-0.19,-0.08],
[-0.22,-0.41,-0.28,-0.52,-0.39,-0.51,-0.63,-0.48,-0.59,-0.71,-0.58,-0.49,-0.62,-0.73,-0.59,-0.48,-0.61,-0.52,-0.63,-0.51,-0.62,-0.74,-0.61,-0.49],
[-0.52,-0.71,-0.59,-0.82,-0.68,-0.91,-0.79,-0.68,-0.81,-0.92,-0.78,-0.69,-0.83,-0.94,-1.02,-0.89,-0.78,-0.91,-0.82,-0.93,-0.81],
[0.52,0.28,0.17,-0.03,-0.12,-0.21,-0.08,-0.29,-0.18,-0.31,-0.42,-0.28,-0.19,-0.32,-0.21],
[0.38,0.12,-0.08,-0.27,-0.19,-0.42,-0.53,-0.38,-0.61,-0.49,-0.58,-0.47,-0.39,-0.52,-0.63,-0.48,-0.41,-0.53,-0.62,-0.71,-0.59,-0.48,-0.61,-0.72,-0.81,-0.68,-0.59,-0.71,-0.82,-0.69,-0.58],
[-0.32,-0.53,-0.71,-0.92,-1.03,-1.22,-1.08,-1.31,-1.18,-1.07,-0.98,-0.89,-0.81,-0.92,-1.01,-0.88,-0.79,-0.91,-1.02,-1.11,-0.98,-0.89,-1.01,-1.12,-1.21,-0.99,-1.09,-1.02],
[0.42,-0.12,-0.63,-1.08,-1.37,-1.52,-1.21,-0.98,-0.83,-0.91,-0.73,-0.82,-0.68,-0.59,-0.72,-0.81,-0.64,-0.73,-0.58,-0.69,-0.78,-0.62,-0.71,-0.83,-0.68,-0.59,-0.72,-0.64,-0.57],
[0.58,0.32,0.11,-0.22,-0.48,-0.71,-1.02,-1.28,-1.44,-1.19,-1.31,-1.08,-0.92,-1.03,-0.87,-0.78,-0.91,-0.82,-0.71,-0.83,-0.92,-0.79,-0.88,-1.01,-0.86,-0.97,-1.11,-0.94,-1.06,-1.18,-1.03,-1.12,-0.98],
[2.12,1.83,2.21,1.92,2.08,1.74,1.93,1.61,1.78,1.42,1.27,1.13,0.92,1.03,0.84,0.71,0.82,0.93,0.78,0.86,0.72,0.61,0.48,0.31,0.22,0.08,0.17,0.02,0.11,0.21,0.08,0.17,0.27,0.12,0.21,0.09,0.18,0.06,0.14],
[0.92,0.78,0.61,0.73,0.58,0.47,0.63,0.52,0.41,0.55,0.68,0.57,0.46,0.38,0.29,0.21,0.33,0.42,0.31,0.38,0.47,0.36,0.28,0.39,0.48,0.37,0.29,0.41,0.52,0.43,0.38],
[0.62,0.98,1.21,0.93,1.18,0.87,1.06,0.78,0.91,0.72,0.83,0.64,0.52,0.61,0.48,0.57,0.69,0.58,0.47,0.62,0.71,0.59,0.48,0.37,0.52,0.61,0.48,0.39,0.51,0.42,0.31,0.43,0.29,0.38,0.27,0.36,0.24,0.33,0.28],
[0.38,0.12,-0.23,-0.08,-0.41,-0.27,-0.58,-0.42,-0.71,-0.53,-0.38,-0.62,-0.48,-0.71,-0.59,-0.82,-0.68,-0.57,-0.71,-0.63,-0.78,-0.69,-0.58,-0.72,-0.81,-0.67,-0.59,-0.71,-0.63,-0.78,-0.68,-0.59,-0.72,-0.61,-0.69,-0.58,-0.64,-0.71,-0.62],
[0.22,-0.18,-0.47,-0.32,-0.63,-0.88,-1.12,-0.93,-0.74,-0.58,-0.71,-0.52,-0.63,-0.48,-0.57,-0.69,-0.53,-0.61,-0.72,-0.58,-0.49,-0.62,-0.73,-0.61,-0.52,-0.64,-0.73,-0.58,-0.67,-0.78,-0.63,-0.52,-0.66,-0.58,-0.49,-0.61,-0.53],
[0.61,0.48,0.72,0.58,0.43,0.56,0.68,0.52,0.41,0.57,0.63,0.49,0.38,0.52,0.61,0.47],
[1.31,1.52,1.68,1.57,1.43,1.62,1.78,1.64,1.49,1.58,1.71,1.56,1.44,1.53,1.62,1.48],
[-0.82,-1.03,-1.21,-0.98,-1.14,-1.32,-1.18,-1.07,-1.24,-1.38,-1.19,-1.31,-1.47,-1.28,-1.36,-1.22],
[1.1,1.3,1.35,1.3,1.2,1.15,1.1,1.05,1.0,1.0,1.05,1.1,1.15,1.1,1.2,1.15],
[0.7,0.9,1.1,1.15,1.1,1.0,0.95,0.9,0.85,0.85,0.9,0.95,1.0,1.0,1.05,1.02],
[0.8,1.0,1.2,1.2,1.1,1.05,1.0,0.95,0.9,0.9,0.95,1.0,1.0,1.05,1.05,1.08],
[0.62,0.31,0.12,-0.09,-0.21,-0.32,-0.18,-0.29,-0.41,-0.28,-0.39,-0.31,-0.42,-0.51,-0.38,-0.44],
[0.5,0.6,0.8,0.7,0.8,0.75,0.7,0.65,0.6,0.65,0.7,0.6,0.55,0.6,0.6,0.62],
[1.6,1.9,2.2,2.0,2.4,2.1,1.9,2.3,2.0,2.2,1.9,2.1,1.8,2.0,1.9,1.85],
[0.2,0.4,0.5,0.4,0.5,0.6,0.5,0.4,0.5,0.4,0.5,0.6,0.5,0.6,0.5,0.55]
];

// Countries that left the data early, every second year from their first year
const grayEarlyStart = [1946, 1946, 1946];
const grayEarlySeries = [
[2.3,2.6,2.9,2.7,3.1,2.8,2.6,2.9,2.5,2.7,2.6,2.8,2.7],
[-2.2,-2.6,-1.2,-0.4,0.0,-0.2,-0.4,-0.3,-0.5,-0.6,-0.4,-0.5,-0.7,-0.6,-0.5,-0.6,-0.4,-0.5,-0.3,-0.4,-0.5,-0.4,-0.5],
[-1.5,-2.4,-2.8,-2.7,-2.9,-2.8,-2.7,-2.3]
];

// ---------------- chart ----------------
const lastYear = 2020;
const svg = d3.select("#chart");
const P = {l: 85.1, r: 1043.9, t: 10, b: 477};
const x = d3.scaleLinear().domain([1941.25, 2023.75]).range([P.l, P.r]);
const y = d3.scaleLinear().domain([-3.31, 3.49]).range([P.b, P.t]);

svg.append("rect").attr("width", 1032).attr("height", 629).attr("fill", "#fff");
svg.append("defs").append("clipPath").attr("id", "clip")
  .append("rect").attr("x", P.l).attr("y", P.t).attr("width", P.r - P.l).attr("height", P.b - P.t);

const grid = svg.append("g");
grid.selectAll(".ymin").data(yMinorValues).join("line")
  .attr("x1", P.l).attr("x2", P.r).attr("y1", d => y(d)).attr("y2", d => y(d))
  .attr("stroke", "#ebebeb").attr("stroke-width", 0.9);
grid.selectAll(".xmin").data(xMinorValues).join("line")
  .attr("y1", P.t).attr("y2", P.b).attr("x1", d => x(d)).attr("x2", d => x(d))
  .attr("stroke", "#ebebeb").attr("stroke-width", 0.9);
grid.selectAll(".ymaj").data(yTickValues).join("line")
  .attr("x1", P.l).attr("x2", P.r).attr("y1", d => y(d)).attr("y2", d => y(d))
  .attr("stroke", "#ebebeb").attr("stroke-width", 1.8);
grid.selectAll(".xmaj").data(xTickValues).join("line")
  .attr("y1", P.t).attr("y2", P.b).attr("x1", d => x(d)).attr("x2", d => x(d))
  .attr("stroke", "#ebebeb").attr("stroke-width", 1.8);

const line = d3.line().x(d => x(d[0])).y(d => y(d[1]));
const plot = svg.append("g").attr("clip-path", "url(#clip)");

const grayData = [];
blocSeries.forEach(v => grayData.push(v.map((d, i) => [blocStart + i, d])));
grayEvenSeries.forEach(v => grayData.push(v.map((d, i) => [lastYear - 2 * (v.length - 1 - i), d])));
grayOddSeries.forEach(v => grayData.push(v.map((d, i) => [Math.min(lastYear, lastYear + 1 - 2 * (v.length - 1 - i)), d])));
grayEarlySeries.forEach((v, k) => grayData.push(v.map((d, i) => [grayEarlyStart[k] + 2 * i, d])));

plot.append("g").selectAll("path").data(grayData).join("path")
  .attr("d", line).attr("fill", "none")
  .attr("stroke", "#000").attr("stroke-opacity", 0.2).attr("stroke-width", 0.75)
  .attr("stroke-linejoin", "round");

plot.append("line")
  .attr("x1", x(markerYear)).attr("x2", x(markerYear)).attr("y1", P.t).attr("y2", P.b)
  .attr("stroke", "#a8a8a8").attr("stroke-width", 2);

const highlight = [
  usaValues.map((d, i) => [usaStart + i, d]),
  japanValues.map((d, i) => [japanStart + i, d]),
  chinaValues.map((d, i) => [chinaStart + i, d])
];
plot.append("g").selectAll("path").data(highlight).join("path")
  .attr("d", line).attr("fill", "none")
  .attr("stroke", (d, i) => countryColors[i]).attr("stroke-width", 2.6)
  .attr("stroke-linejoin", "round");

// panel border
svg.append("rect").attr("x", P.l).attr("y", P.t).attr("width", P.r - P.l).attr("height", P.b - P.t)
  .attr("fill", "none").attr("stroke", "#333").attr("stroke-width", 1.1);

// axes
const xAxis = svg.append("g").attr("transform", `translate(0,${P.b})`)
  .call(d3.axisBottom(x).tickValues(xTickValues).tickFormat(d3.format("d")).tickSize(4).tickPadding(6));
const yAxis = svg.append("g").attr("transform", `translate(${P.l},0)`)
  .call(d3.axisLeft(y).tickValues(yTickValues).tickSize(4).tickPadding(7));
[xAxis, yAxis].forEach(a => {
  a.select(".domain").remove();
  a.selectAll(".tick line").attr("stroke", "#333").attr("stroke-width", 1.1);
  a.selectAll(".tick text").attr("fill", "#4d4d4d").style("font-size", "21px")
    .style("font-family", '"Noto Sans CJK JP","Noto Sans",sans-serif');
});
yAxis.selectAll(".tick text").text(d => d < 0 ? "-" + Math.abs(d) : d);

svg.append("text").attr("x", (P.l + P.r) / 2).attr("y", 541).attr("text-anchor", "middle")
  .style("font-size", "27px").attr("fill", "#000").text("年");
svg.append("text").attr("transform", `translate(35,${(P.t + P.b) / 2}) rotate(-90)`)
  .attr("text-anchor", "middle").style("font-size", "27px").attr("fill", "#000").text("理想点");

// legend
const legendX = [377, 545, 668];
const lg = svg.append("g");
countryNames.forEach((n, i) => {
  lg.append("line").attr("x1", legendX[i]).attr("x2", legendX[i] + 36)
    .attr("y1", 614).attr("y2", 614).attr("stroke", countryColors[i]).attr("stroke-width", 2.6);
  lg.append("text").attr("x", legendX[i] + 58).attr("y", 622)
    .style("font-size", "22px").attr("fill", "#000").text(n);
});
</script>
</body></html>
